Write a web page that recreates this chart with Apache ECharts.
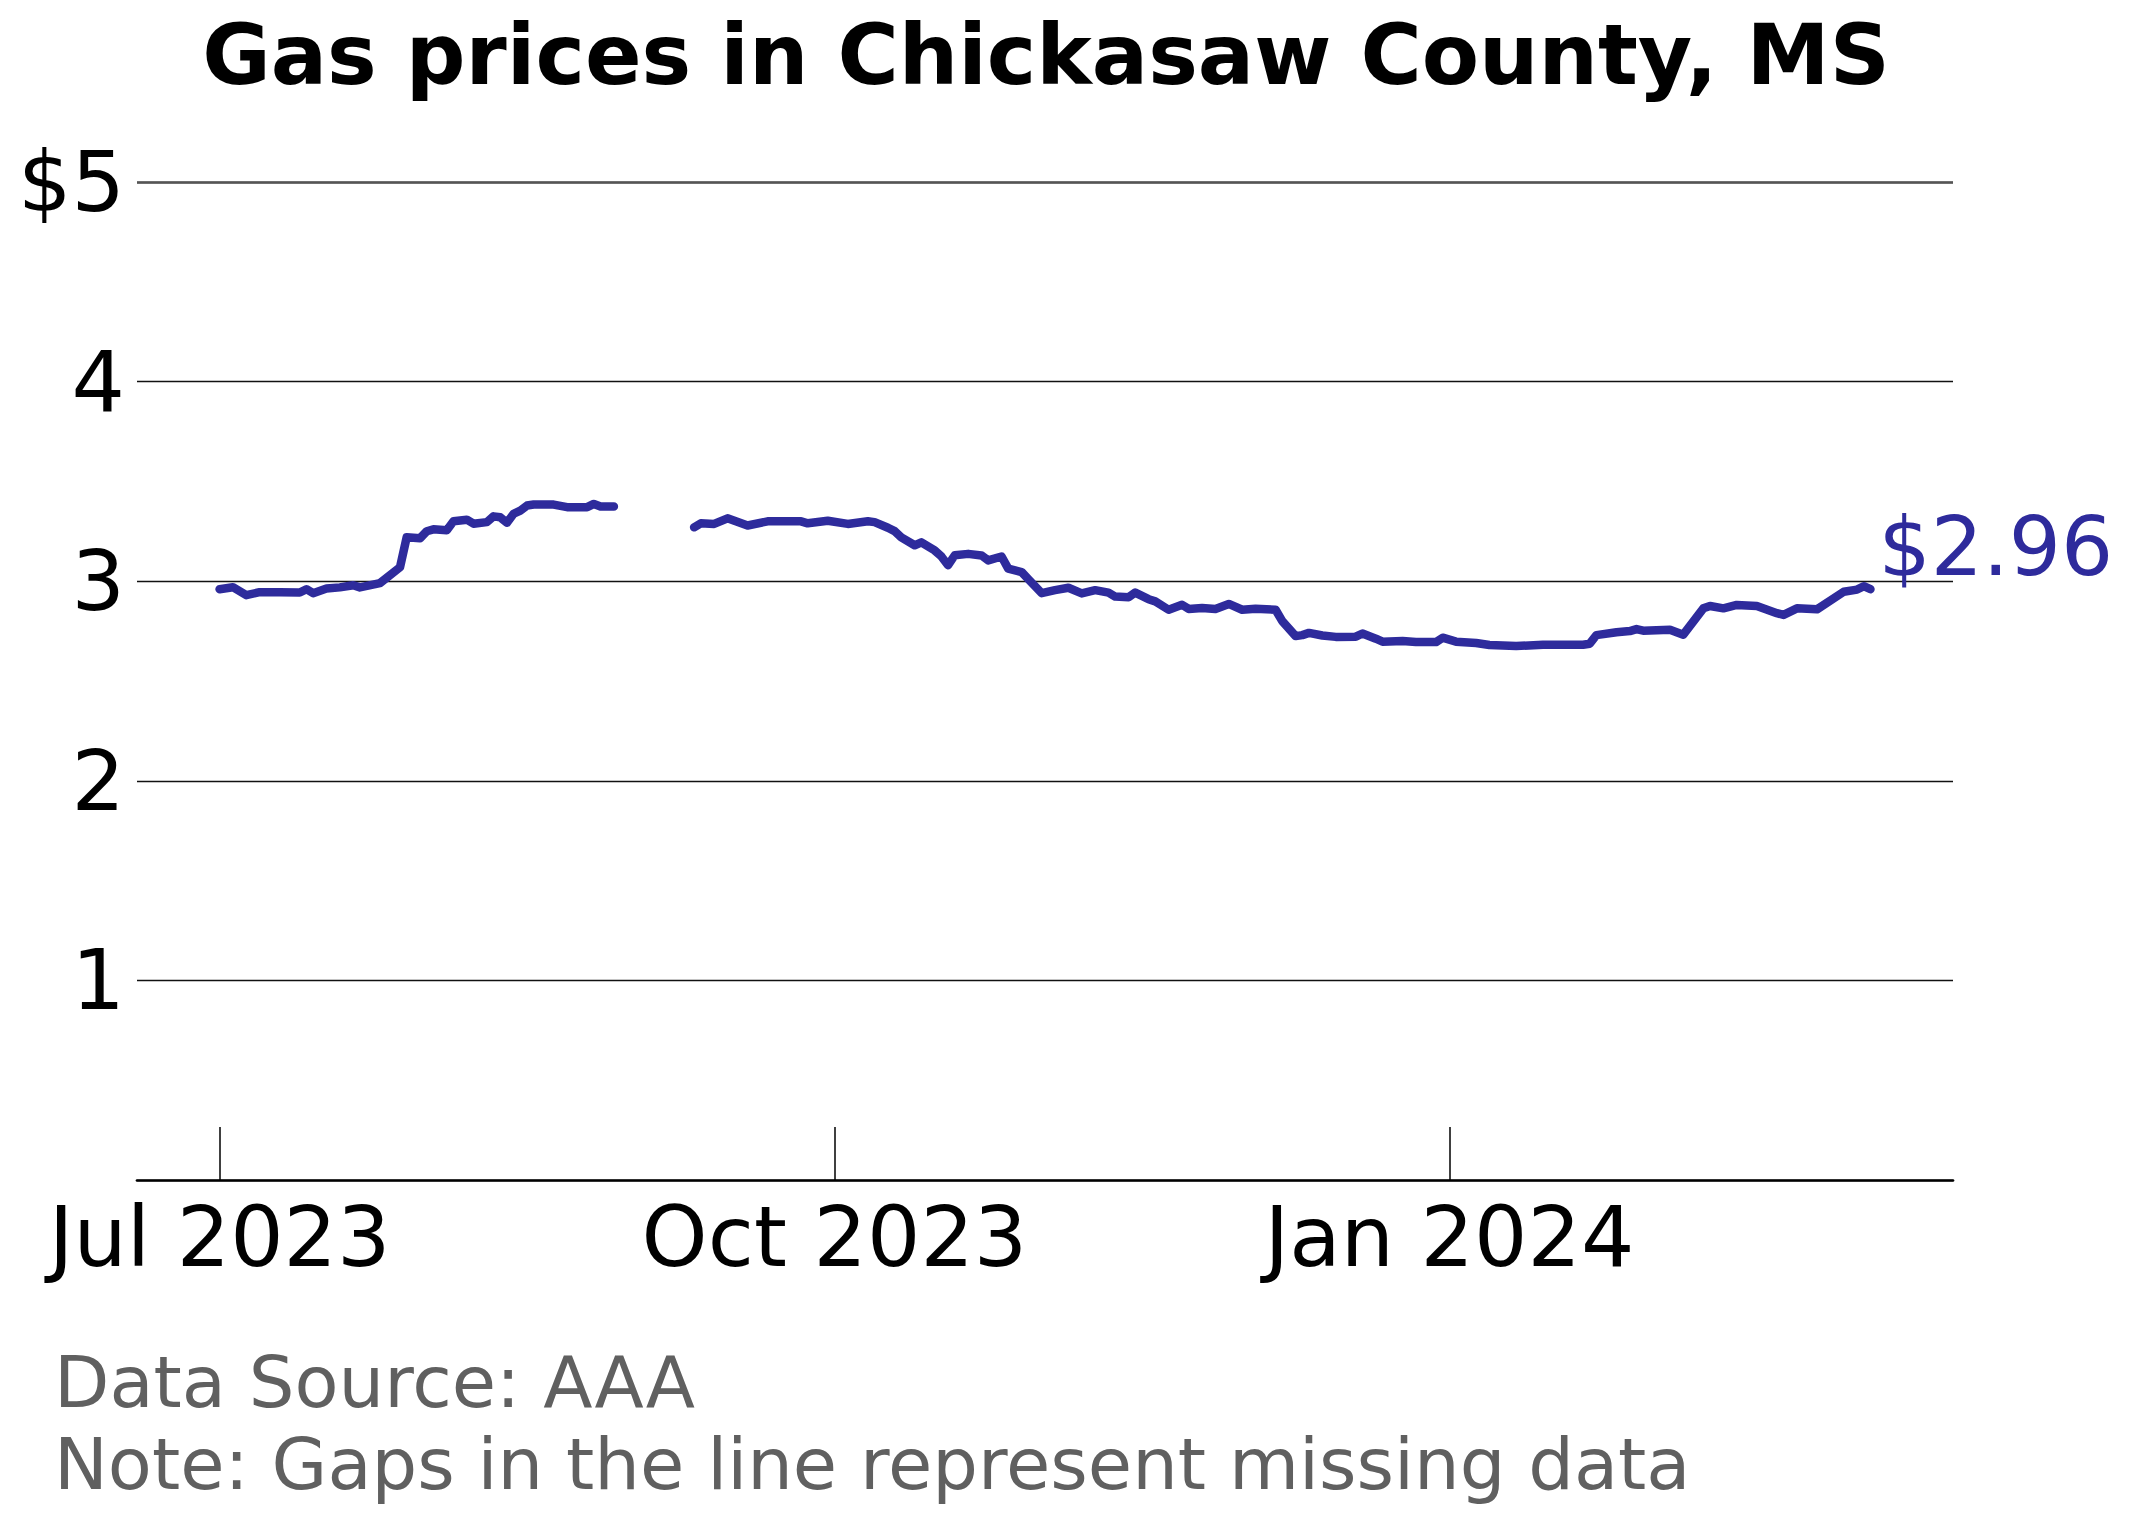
<!DOCTYPE html>
<html>
<head>
<meta charset="utf-8">
<title>Gas prices in Chickasaw County, MS</title>
<script src="https://cdn.jsdelivr.net/npm/echarts@6/dist/echarts.min.js"></script>
<style>
  html, body { margin: 0; padding: 0; background: #fff; }
  #main { width: 2132px; height: 1524px; }
</style>
</head>
<body>
<div id="main"></div>
<script>
// values (null = missing data gap)
var dates = [
  '2023-07-01','2023-07-03','2023-07-05','2023-07-07','2023-07-10','2023-07-13','2023-07-14','2023-07-15',
  '2023-07-17','2023-07-19','2023-07-21','2023-07-22','2023-07-25','2023-07-28','2023-07-29','2023-07-31',
  '2023-08-01','2023-08-02','2023-08-04','2023-08-05','2023-08-07','2023-08-08','2023-08-10','2023-08-11',
  '2023-08-12','2023-08-13','2023-08-14','2023-08-15','2023-08-16','2023-08-17','2023-08-20','2023-08-22',
  '2023-08-25','2023-08-26','2023-08-27','2023-08-29',
  '2023-09-04',
  '2023-09-10','2023-09-11','2023-09-13','2023-09-15','2023-09-18','2023-09-21','2023-09-26','2023-09-27',
  '2023-09-30','2023-10-03','2023-10-06','2023-10-07','2023-10-09','2023-10-10','2023-10-11','2023-10-13',
  '2023-10-14','2023-10-16','2023-10-17','2023-10-18','2023-10-19','2023-10-21','2023-10-23','2023-10-24',
  '2023-10-26','2023-10-27','2023-10-29','2023-10-30','2023-11-01','2023-11-03','2023-11-05','2023-11-07',
  '2023-11-09','2023-11-11','2023-11-12','2023-11-14','2023-11-15','2023-11-17','2023-11-18','2023-11-20',
  '2023-11-22','2023-11-23','2023-11-25','2023-11-27','2023-11-29','2023-12-01','2023-12-03','2023-12-06',
  '2023-12-07','2023-12-09','2023-12-10','2023-12-11','2023-12-13','2023-12-15','2023-12-18','2023-12-19',
  '2023-12-21','2023-12-22','2023-12-25','2023-12-27','2023-12-30','2023-12-31','2024-01-02','2024-01-05',
  '2024-01-07','2024-01-11','2024-01-15','2024-01-21','2024-01-22','2024-01-23','2024-01-26','2024-01-28',
  '2024-01-29','2024-01-30','2024-02-03','2024-02-05','2024-02-08','2024-02-09','2024-02-11','2024-02-13',
  '2024-02-16','2024-02-19','2024-02-20','2024-02-22','2024-02-25','2024-02-29','2024-03-02','2024-03-03',
  '2024-03-04'
];
var prices = [
  2.96, 2.97, 2.93, 2.945, 2.945, 2.943, 2.96, 2.94,
  2.963, 2.969, 2.98, 2.969, 2.99, 3.07, 3.22, 3.215,
  3.25, 3.26, 3.255, 3.30, 3.308, 3.288, 3.296, 3.325,
  3.32, 3.293, 3.338, 3.354, 3.379, 3.384, 3.384, 3.371,
  3.371, 3.387, 3.374, 3.374,
  null,
  3.27, 3.29, 3.287, 3.315, 3.279, 3.30, 3.30, 3.29,
  3.303, 3.287, 3.30, 3.296, 3.268, 3.251, 3.22, 3.18,
  3.195, 3.154, 3.124, 3.08, 3.13, 3.137, 3.129, 3.104,
  3.124, 3.063, 3.046, 3.01, 2.94, 2.955, 2.967, 2.939,
  2.955, 2.943, 2.923, 2.92, 2.943, 2.91, 2.899, 2.857,
  2.882, 2.861, 2.866, 2.861, 2.886, 2.857, 2.862, 2.857,
  2.80, 2.725, 2.73, 2.741, 2.728, 2.721, 2.722, 2.738,
  2.712, 2.697, 2.70, 2.695, 2.695, 2.717, 2.697, 2.69,
  2.68, 2.675, 2.682, 2.682, 2.687, 2.73, 2.744, 2.75,
  2.76, 2.752, 2.757, 2.732, 2.864, 2.876, 2.864, 2.881,
  2.876, 2.84, 2.831, 2.864, 2.859, 2.947, 2.958, 2.975,
  2.96
];
var xTickDates = ['2023-07-01', '2023-10-01', '2024-01-01'];
var xTickLabels = ['Jul 2023', 'Oct 2023', 'Jan 2024'];
var yTickLabels = ['', '1', '2', '3', '4', '$5'];

var lineColor = '#2e2b9c';
var font = 'DejaVu Sans';

function toTime(d) { return echarts.time.parse(d).getTime(); }

var chart = echarts.init(document.getElementById('main'), null, {renderer: 'svg'});

var tickValues = xTickDates.map(toTime);
var t0 = toTime(dates[0]);
var t1 = toTime(dates[dates.length - 1]);
var pad = (t1 - t0) * 0.05;

var seriesData = [];
for (var i = 0; i < dates.length; i++) {
    seriesData.push([toTime(dates[i]), prices[i]]);
}

chart.setOption({
    animation: false,
    backgroundColor: '#fff',
    grid: {left: 137, right: 179, top: 182, bottom: 344},
    graphic: [
        {type: 'text', x: 1046, y: 13,
         style: {text: 'Gas prices in Chickasaw County, MS', font: 'bold 83.5px "DejaVu Sans"',
                 fill: '#000', textAlign: 'center', textVerticalAlign: 'top'}},
        {type: 'text', x: 54, y: 1346,
         style: {text: 'Data Source: AAA', font: '72px "DejaVu Sans"',
                 fill: '#606060', textAlign: 'left', textVerticalAlign: 'top'}},
        {type: 'text', x: 54, y: 1428,
         style: {text: 'Note: Gaps in the line represent missing data', font: '72px "DejaVu Sans"',
                 fill: '#606060', textAlign: 'left', textVerticalAlign: 'top'}}
    ],
    xAxis: {
        type: 'value',
        min: t0 - pad,
        max: t1 + pad,
        axisLine: {show: true, lineStyle: {color: '#000', width: 2.7}},
        axisTick: {
            show: true, inside: true, length: 53,
            customValues: tickValues,
            lineStyle: {color: '#000', width: 1.5}
        },
        axisLabel: {
            customValues: tickValues,
            formatter: function (v) {
                for (var k = 0; k < tickValues.length; k++) {
                    if (Math.abs(tickValues[k] - v) < 3600000) return xTickLabels[k];
                }
                return '';
            },
            fontSize: 84, fontFamily: font, color: '#000', margin: 15
        },
        splitLine: {show: false}
    },
    yAxis: {
        type: 'value',
        min: 0, max: 5, interval: 1,
        axisLine: {show: false},
        axisTick: {show: false},
        axisLabel: {
            formatter: function (v) { return yTickLabels[Math.round(v)]; },
            fontSize: 84, fontFamily: font, color: '#000', margin: 12
        },
        splitLine: {show: true, lineStyle: {color: '#111', width: 1.3}}
    },
    series: [{
        type: 'line',
        data: seriesData,
        showSymbol: false,
        connectNulls: false,
        lineStyle: {color: lineColor, width: 8.5, cap: 'round', join: 'round'},
        itemStyle: {color: lineColor},
        endLabel: {
            show: true,
            formatter: function (p) { return '$' + p.value[1].toFixed(2); },
            color: lineColor, fontSize: 82, fontFamily: font,
            offset: [0, -43]
        },
        markLine: {
            silent: true,
            symbol: ['none', 'none'],
            label: {show: false},
            lineStyle: {color: '#555', width: 2.5, type: 'solid'},
            data: [{yAxis: 5}]
        }
    }]
});
</script>
</body>
</html>
